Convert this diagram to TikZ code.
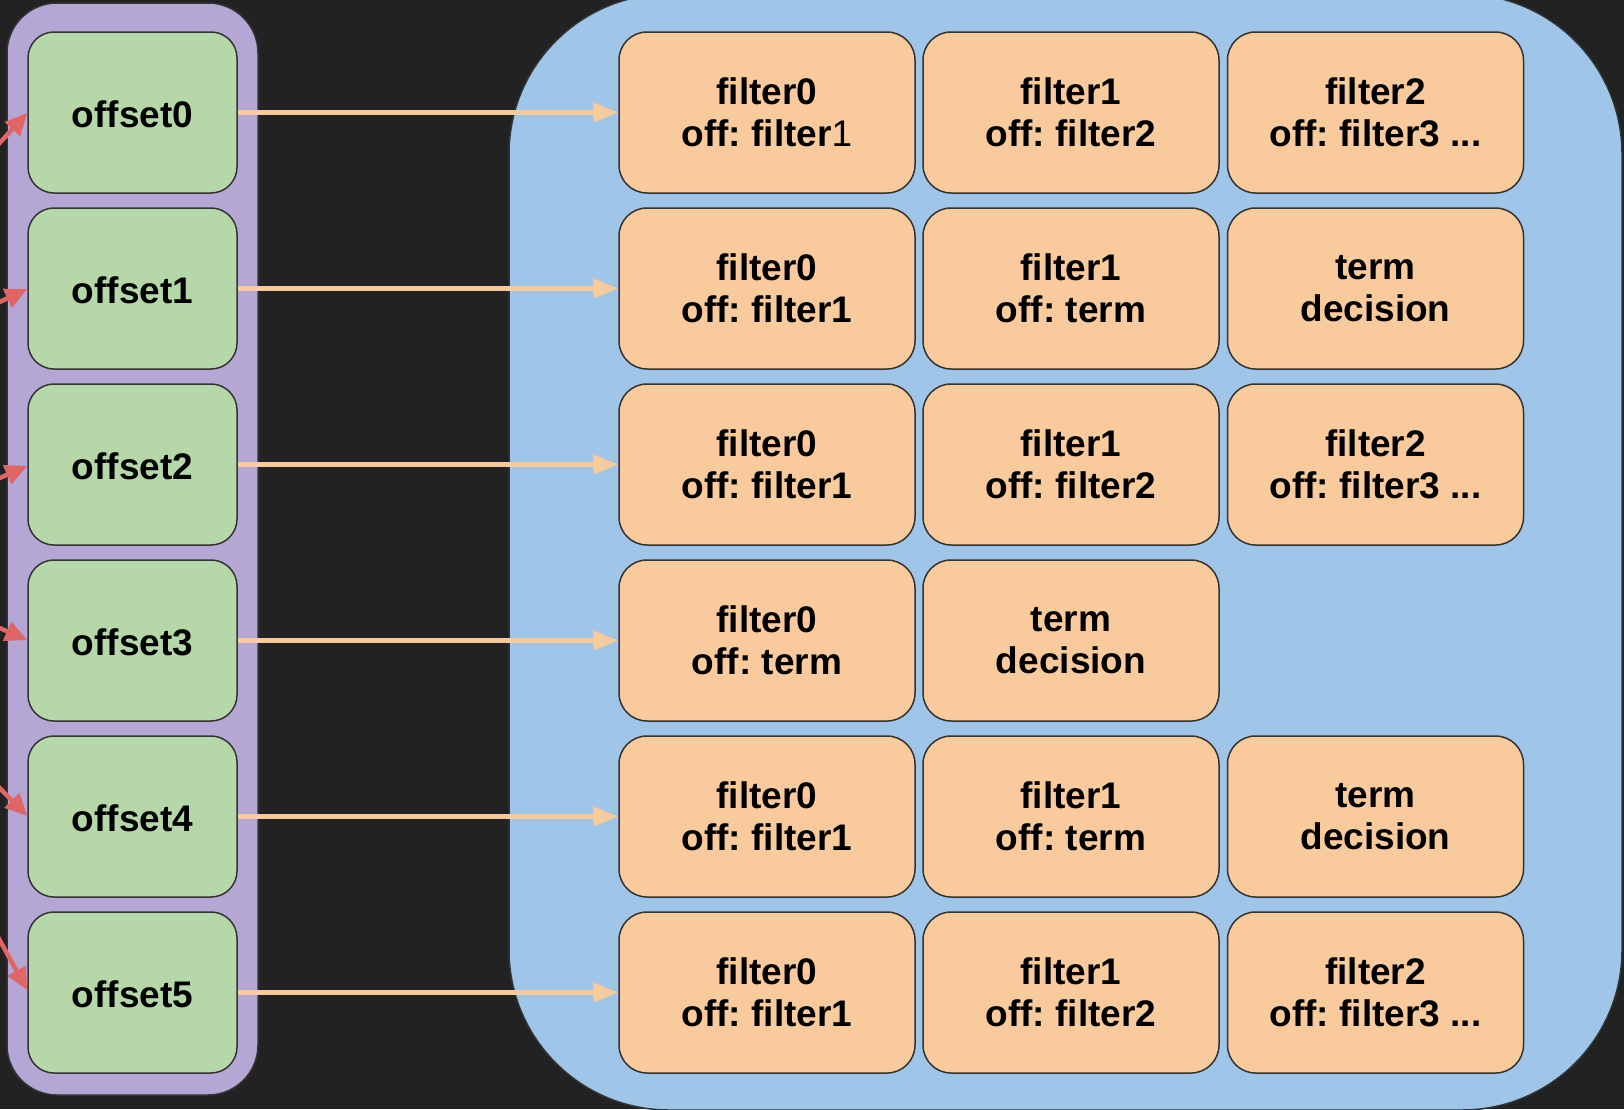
\documentclass[tikz,border=0pt]{standalone}
\usepackage{fontspec}
\setmainfont{Liberation Sans}
\usetikzlibrary{arrows.meta}
\frenchspacing
\definecolor{bgdark}{HTML}{222222}
\definecolor{edge}{HTML}{333333}
\definecolor{purplebox}{HTML}{B4A7D6}
\definecolor{bluebox}{HTML}{9FC5E8}
\definecolor{greenbox}{HTML}{B6D7A8}
\definecolor{orangebox}{HTML}{F9CB9C}
\definecolor{redline}{HTML}{E06666}
\tikzset{
  x=1pt, y=-1pt,
  txt/.style={font=\fontsize{37}{42}\selectfont\bfseries\frenchspacing, align=center, text=black},
  offbox/.style={txt, draw=edge, line width=1.5pt, fill=greenbox, rounded corners=26pt,
    minimum width=209pt, minimum height=161pt, inner sep=0pt},
  filbox/.style={txt, draw=edge, line width=1.5pt, fill=orangebox, rounded corners=28pt,
    minimum width=296pt, minimum height=161pt, inner sep=0pt},
  orarrow/.style={draw=orangebox, line width=4.5pt, -{Triangle[length=25pt,width=19pt]}},
  redarrow/.style={draw=redline, line width=4.5pt, -{Triangle[length=22pt,width=20pt]}},
}
\begin{document}
\begin{tikzpicture}
\useasboundingbox[fill=bgdark] (0,0) rectangle (1624,1109);
% containers
\draw[edge, line width=1.5pt, fill=purplebox, rounded corners=50pt] (7,3) rectangle (258,1095);
\begin{scope}
\clip (0,0) rectangle (1624,1109);
\draw[edge, line width=1.5pt, fill=bluebox, rounded corners=160pt] (509,-6) rectangle (1622,1110);
\end{scope}
% offset nodes
\foreach \k in {0,...,5} {
  \node[offbox] (o\k) at (132.5, 112.5+176*\k) {\raisebox{-2pt}[\height][\depth]{offset\k}};
}
% filter nodes
\node[filbox] (f00) at (767,112.5) {filter0\\off: filter{\mdseries 1}};
\node[filbox] (f01) at (1071,112.5) {filter1\\off: filter2};
\node[filbox] (f02) at (1375.5,112.5) {filter2\\off: filter3 ...};
\node[filbox] (f10) at (767,288.5) {filter0\\off: filter1};
\node[filbox] (f11) at (1071,288.5) {filter1\\off: term};
\node[filbox] (f12) at (1375.5,288.5) {term\\decision};
\node[filbox] (f20) at (767,464.5) {filter0\\off: filter1};
\node[filbox] (f21) at (1071,464.5) {filter1\\off: filter2};
\node[filbox] (f22) at (1375.5,464.5) {filter2\\off: filter3 ...};
\node[filbox] (f30) at (767,640.5) {filter0\\off: term};
\node[filbox] (f31) at (1071,640.5) {term\\decision};
\node[filbox] (f40) at (767,816.5) {filter0\\off: filter1};
\node[filbox] (f41) at (1071,816.5) {filter1\\off: term};
\node[filbox] (f42) at (1375.5,816.5) {term\\decision};
\node[filbox] (f50) at (767,992.5) {filter0\\off: filter1};
\node[filbox] (f51) at (1071,992.5) {filter1\\off: filter2};
\node[filbox] (f52) at (1375.5,992.5) {filter2\\off: filter3 ...};
% orange connectors
\foreach \k in {0,...,5} {
  \draw[orarrow] (o\k.east) -- (f\k0.west);
}
% incoming red connectors from outside
\coordinate (r0) at (-28,173);
\coordinate (r1) at (-28,315);
\coordinate (r2) at (-28,490);
\coordinate (r3) at (-28,616);
\coordinate (r4) at (-28,760);
\coordinate (r5) at (-28,890);
\draw[redarrow] (r0) -- (o0.west |- 0,113);
\draw[redarrow] (r1) -- (o1.west |- 0,289);
\draw[redarrow] (r2) -- (o2.west |- 0,466);
\draw[redarrow] (r3) -- (o3.west |- 0,640);
\draw[redarrow] (r4) -- (o4.west |- 0,816);
\draw[redarrow] (r5) -- (o5.west |- 0,990);
\end{tikzpicture}
\end{document}
